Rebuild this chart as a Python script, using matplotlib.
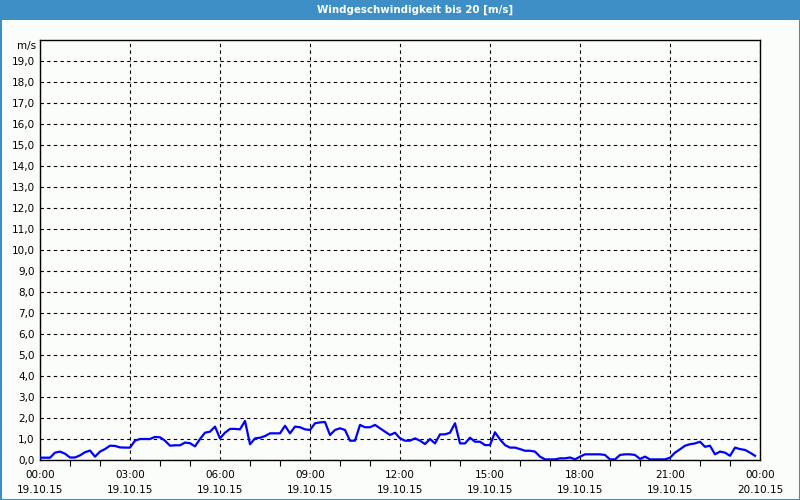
import matplotlib
matplotlib.use("Agg")
import matplotlib.pyplot as plt
import matplotlib.dates as mdates
import matplotlib.patches as mpatches
import pandas as pd
import numpy as np

title = "Windgeschwindigkeit bis 20 [m/s]"
unit = "m/s"
start = "2015-10-19 00:00"
end = "2015-10-20 00:00"
speed = [
    0.11, 0.11, 0.11, 0.35, 0.40, 0.30, 0.12, 0.12, 0.22, 0.37, 0.45, 0.16,
    0.40, 0.52, 0.68, 0.67, 0.60, 0.59, 0.59, 0.92, 1.00, 1.00, 1.00, 1.10,
    1.08, 0.92, 0.68, 0.70, 0.70, 0.83, 0.80, 0.65, 1.00, 1.30, 1.35, 1.59,
    1.03, 1.30, 1.48, 1.48, 1.46, 1.86, 0.75, 1.03, 1.06, 1.14, 1.27, 1.27,
    1.27, 1.63, 1.27, 1.59, 1.56, 1.46, 1.43, 1.75, 1.79, 1.81, 1.19, 1.43,
    1.51, 1.43, 0.92, 0.92, 1.67, 1.56, 1.56, 1.67, 1.51, 1.35, 1.19, 1.30,
    1.03, 0.92, 0.92, 1.03, 0.92, 0.76, 1.00, 0.79, 1.22, 1.22, 1.30, 1.75,
    0.79, 0.79, 1.06, 0.87, 0.87, 0.71, 0.71, 1.32, 0.98, 0.71, 0.59, 0.59,
    0.52, 0.44, 0.44, 0.40, 0.16, 0.03, 0.03, 0.03, 0.08, 0.08, 0.12, 0.03,
    0.16, 0.27, 0.27, 0.27, 0.27, 0.24, 0.03, 0.03, 0.24, 0.27, 0.27, 0.24,
    0.05, 0.16, 0.03, 0.03, 0.03, 0.03, 0.11, 0.35, 0.51, 0.68, 0.75, 0.79,
    0.87, 0.63, 0.68, 0.27, 0.40, 0.35, 0.20, 0.59, 0.52, 0.48, 0.35, 0.20,
]
times = pd.date_range(start, periods=len(speed), freq="10min")
y_ticks = list(range(0, 20))
y_labels = [f"{v},0" for v in y_ticks]

plt.rcParams['font.family'] = ['DejaVu Sans']
bg = '#fbfdfb'
blue = '#3d8fc6'

fig = plt.figure(figsize=(8, 5), dpi=100, facecolor=bg)
# title bar and border
fig.patches.append(mpatches.Rectangle((0, 1 - 20 / 500), 1, 20 / 500, transform=fig.transFigure,
                                      facecolor=blue, edgecolor='none', zorder=0))
fig.patches.append(mpatches.Rectangle((0.5 / 800, 0.5 / 500), 1 - 1 / 800, 1 - 1 / 500,
                                      transform=fig.transFigure, facecolor='none',
                                      edgecolor=blue, linewidth=1.5, zorder=5))
fig.text(415 / 800, 1 - 10 / 500, title, color='white', ha='center', va='center',
         fontsize=7.4, fontweight='bold')

ax = fig.add_axes([40 / 800, 40 / 500, 720 / 800, 420 / 500])
ax.set_facecolor(bg)
ax.plot(times, speed, color='#0000ff', linewidth=1.6, zorder=3)

ax.set_xlim(pd.Timestamp(start), pd.Timestamp(end))
ax.set_ylim(0, 20)
ax.set_yticks(y_ticks)
ax.set_yticklabels(y_labels)
ax.tick_params(axis='y', length=0, pad=4, labelsize=7.5)
ax.text(-0.006, 1 - 6 / 420, unit, transform=ax.transAxes, ha='right', va='center', fontsize=7.5)

ax.xaxis.set_major_locator(mdates.HourLocator(byhour=range(0, 24, 3)))
ax.xaxis.set_minor_locator(mdates.HourLocator())
ax.xaxis.set_major_formatter(mdates.DateFormatter('%H:%M\n%d.%m.%y'))
ax.tick_params(axis='x', which='major', length=0, pad=7, labelsize=7.5)
ax.tick_params(axis='x', which='minor', length=4, width=0.8, direction='out')
for lab in ax.get_xticklabels():
    lab.set_linespacing(1.6)

ax.grid(True, which='major', color='black', linestyle=(0, (3, 3)), linewidth=0.8)
for s in ax.spines.values():
    s.set_color('black')
    s.set_linewidth(1)

fig.savefig('out.png', dpi=100, facecolor=bg)
